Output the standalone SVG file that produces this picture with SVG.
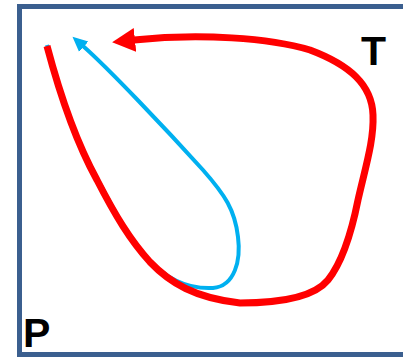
<svg xmlns="http://www.w3.org/2000/svg" width="403" height="357" viewBox="0 0 403 357">
<style>
.frame{fill:none;stroke:#3b5f8f;stroke-width:5}
.red{fill:none;stroke:#ff0000;stroke-width:7;stroke-linecap:butt}
.blue{fill:none;stroke:#00b0f0;stroke-width:4}
.lbl{font-family:"Liberation Sans",Arial,sans-serif;font-weight:bold;font-size:41px;fill:#000}
</style>
<defs>
<marker id="ahRed" markerUnits="userSpaceOnUse" markerWidth="26" markerHeight="26" refX="1" refY="12" orient="auto" viewBox="0 0 26 24">
<path d="M0,0 L23,12 L0,24 Z" fill="#ff0000"/>
</marker>
<marker id="ahBlue" markerUnits="userSpaceOnUse" markerWidth="16" markerHeight="16" refX="1" refY="7" orient="auto" viewBox="0 0 16 14">
<path d="M0,0 L15,7 L0,14 Z" fill="#00b0f0"/>
</marker>
</defs>
<rect class="frame" x="19.5" y="6.5" width="400" height="348"/>
<g id="connectors">
<path id="blue-path" class="blue" d="M47,45 C60,94 75,139 97,178 C115,212 128,237 148,259 C172,285 195,289 213,288 C235,286 241,260 238,237 C235,210 225,195 203,170 C165,128 108,68 83,46" marker-end="url(#ahBlue)"/>
<path id="red-path" class="red" d="M47,46 C60,95 75,140 97,180 C115,215 130,240 150,262 C170,283 195,298 240,303 C285,303 315,296 328,280 C340,265 350,240 358,200 C366,165 374,140 373,115 C372,85 350,65 310,50 C270,38 200,33 134,40" marker-end="url(#ahRed)"/>
</g>
<g id="T"><text class="lbl" x="361" y="65">T</text></g>
<g id="P"><text class="lbl" x="23" y="347">P</text></g>
</svg>
